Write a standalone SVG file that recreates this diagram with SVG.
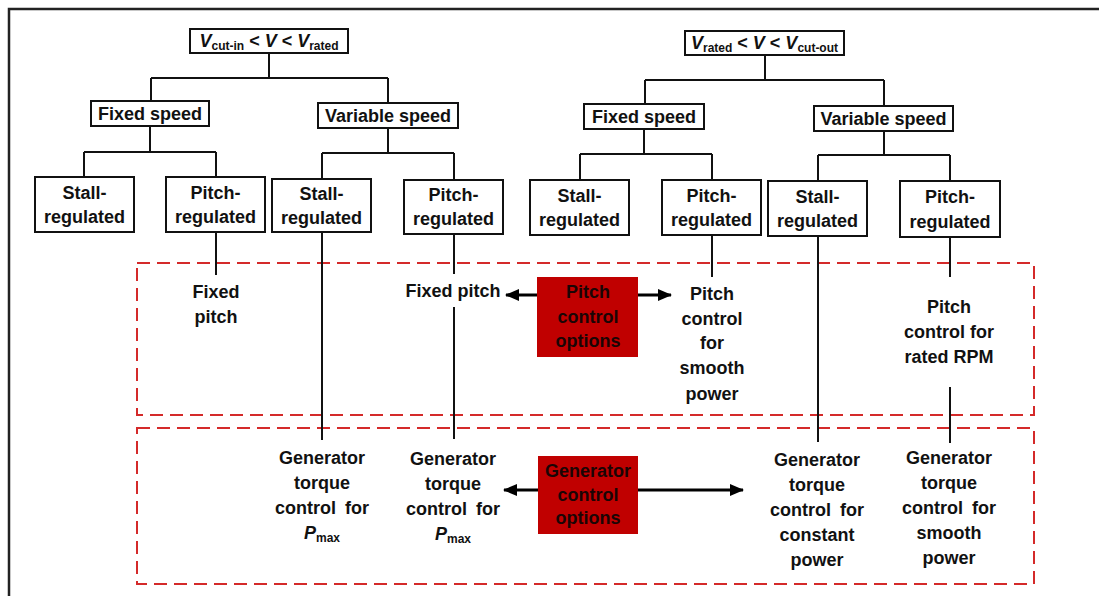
<svg xmlns="http://www.w3.org/2000/svg" width="1099" height="596" viewBox="0 0 1099 596">
  <style>
    .bg { fill: #ffffff; }
    .frame { fill: none; stroke: #222; stroke-width: 2.5; }
    .box { fill: #ffffff; stroke: #111; stroke-width: 2; }
    .opt { fill: #c00000; stroke: none; }
    .wire { fill: none; stroke: #111; stroke-width: 2; }
    .band { fill: none; stroke: #d42a2a; stroke-width: 2; stroke-dasharray: 13 7; }
    .arrow { fill: none; stroke: #000; stroke-width: 3; marker-end: url(#head); }
    .t { font-family: "Liberation Sans", Arial, sans-serif; font-weight: bold; font-size: 18px; fill: #111; text-anchor: middle; }
    .t2 { font-family: "Liberation Sans", Arial, sans-serif; font-weight: bold; font-size: 18px; fill: #1a0505; text-anchor: middle; }
    .it { font-style: italic; }
    .sub { font-size: 12px; font-style: normal; }
    .ws { word-spacing: 4px; }
  </style>
  <defs>
    <marker id="head" markerUnits="userSpaceOnUse" markerWidth="14" markerHeight="12" refX="13" refY="6" orient="auto">
      <path d="M0,0 L14,6 L0,12 z" fill="#000"/>
    </marker>
  </defs>

  <rect class="bg" x="0" y="0" width="1099" height="596"/>
  <path class="frame" d="M1099,9 H9 V596"/>

  <!-- dashed option bands -->
  <g id="bands">
    <rect class="band" x="137" y="263" width="897" height="152"/>
    <rect class="band" x="137" y="428" width="897" height="156"/>
  </g>

  <!-- tree connectors and drop lines -->
  <g id="connectors">
    <path class="wire" d="M269,53 V78 M151,78 H388 M151,78 V101 M388,78 V103"/>
    <path class="wire" d="M150,126 V152 M84,152 H216 M84,152 V177 M216,152 V177"/>
    <path class="wire" d="M388,128 V153 M322,153 H454 M322,153 V179 M454,153 V180"/>
    <path class="wire" d="M765,55 V80 M645,80 H884 M645,80 V104 M884,80 V106"/>
    <path class="wire" d="M644,129 V154 M580,154 H712 M580,154 V180 M712,154 V180"/>
    <path class="wire" d="M884,131 V155 M818,155 H950 M818,155 V181 M950,155 V181"/>
    <path class="wire" d="M216,232 V275"/>
    <path class="wire" d="M322,232 V440"/>
    <path class="wire" d="M454,234 V274 M454,307 V439"/>
    <path class="wire" d="M712,235 V277"/>
    <path class="wire" d="M818,236 V442"/>
    <path class="wire" d="M950,237 V277 M950,387 V443"/>
    <line class="arrow" x1="537" y1="295" x2="506" y2="295"/>
    <line class="arrow" x1="638" y1="295" x2="671" y2="295"/>
    <line class="arrow" x1="538" y1="490" x2="504" y2="490"/>
    <line class="arrow" x1="638" y1="490" x2="743" y2="490"/>
  </g>

  <!-- left tree: cut-in to rated -->
  <g id="root-low">
    <rect class="box" x="190" y="29" width="158" height="24"/>
    <text class="t" x="269" y="47"><tspan class="it">V</tspan><tspan class="sub" dy="3">cut-in</tspan><tspan dy="-3"> &lt; </tspan><tspan class="it">V</tspan><tspan> &lt; </tspan><tspan class="it">V</tspan><tspan class="sub" dy="3">rated</tspan></text>
  </g>
  <g id="fixed-low">
    <rect class="box" x="91" y="101" width="118" height="25"/>
    <text class="t" x="150" y="120">Fixed speed</text>
  </g>
  <g id="variable-low">
    <rect class="box" x="318" y="103" width="140" height="25"/>
    <text class="t" x="388" y="122">Variable speed</text>
  </g>
  <g id="stall-fixed-low">
    <rect class="box" x="35" y="177" width="99" height="55"/>
    <text class="t" x="84.5" y="199">Stall-</text>
    <text class="t" x="84.5" y="223">regulated</text>
  </g>
  <g id="pitch-fixed-low">
    <rect class="box" x="166" y="177" width="99" height="55"/>
    <text class="t" x="215.5" y="199">Pitch-</text>
    <text class="t" x="215.5" y="223">regulated</text>
  </g>
  <g id="stall-var-low">
    <rect class="box" x="272" y="179" width="99" height="53"/>
    <text class="t" x="321.5" y="200">Stall-</text>
    <text class="t" x="321.5" y="224">regulated</text>
  </g>
  <g id="pitch-var-low">
    <rect class="box" x="404" y="180" width="99" height="54"/>
    <text class="t" x="453.5" y="201">Pitch-</text>
    <text class="t" x="453.5" y="225">regulated</text>
  </g>

  <!-- right tree: rated to cut-out -->
  <g id="root-high">
    <rect class="box" x="685" y="31" width="159" height="24"/>
    <text class="t" x="764.5" y="49"><tspan class="it">V</tspan><tspan class="sub" dy="3">rated</tspan><tspan dy="-3"> &lt; </tspan><tspan class="it">V</tspan><tspan> &lt; </tspan><tspan class="it">V</tspan><tspan class="sub" dy="3">cut-out</tspan></text>
  </g>
  <g id="fixed-high">
    <rect class="box" x="584" y="104" width="120" height="25"/>
    <text class="t" x="644" y="123">Fixed speed</text>
  </g>
  <g id="variable-high">
    <rect class="box" x="814" y="106" width="139" height="25"/>
    <text class="t" x="883.5" y="125">Variable speed</text>
  </g>
  <g id="stall-fixed-high">
    <rect class="box" x="530" y="180" width="99" height="55"/>
    <text class="t" x="579.5" y="202">Stall-</text>
    <text class="t" x="579.5" y="226">regulated</text>
  </g>
  <g id="pitch-fixed-high">
    <rect class="box" x="662" y="180" width="99" height="55"/>
    <text class="t" x="711.5" y="202">Pitch-</text>
    <text class="t" x="711.5" y="226">regulated</text>
  </g>
  <g id="stall-var-high">
    <rect class="box" x="768" y="181" width="99" height="55"/>
    <text class="t" x="817.5" y="203">Stall-</text>
    <text class="t" x="817.5" y="227">regulated</text>
  </g>
  <g id="pitch-var-high">
    <rect class="box" x="900" y="181" width="100" height="56"/>
    <text class="t" x="950" y="203">Pitch-</text>
    <text class="t" x="950" y="228">regulated</text>
  </g>

  <!-- pitch control band -->
  <g id="fixed-pitch-a">
    <text class="t" x="216" y="298">Fixed</text>
    <text class="t" x="216" y="323">pitch</text>
  </g>
  <g id="fixed-pitch-b">
    <text class="t" x="453" y="297">Fixed pitch</text>
  </g>
  <g id="pitch-options">
    <rect class="opt" x="537" y="277" width="101" height="80"/>
    <text class="t2" x="588" y="298">Pitch</text>
    <text class="t2" x="588" y="323">control</text>
    <text class="t2" x="588" y="347">options</text>
  </g>
  <g id="pitch-smooth">
    <text class="t" x="712" y="300">Pitch</text>
    <text class="t" x="712" y="325">control</text>
    <text class="t" x="712" y="349">for</text>
    <text class="t" x="712" y="374">smooth</text>
    <text class="t" x="712" y="400">power</text>
  </g>
  <g id="pitch-rated">
    <text class="t" x="949" y="313">Pitch</text>
    <text class="t" x="949" y="338">control for</text>
    <text class="t" x="949" y="363">rated RPM</text>
  </g>

  <!-- generator control band -->
  <g id="gen-pmax-a">
    <text class="t" x="322" y="464">Generator</text>
    <text class="t" x="322" y="489">torque</text>
    <text class="t ws" x="322" y="514">control for</text>
    <text class="t" x="322" y="539"><tspan class="it">P</tspan><tspan class="sub" dy="3">max</tspan></text>
  </g>
  <g id="gen-pmax-b">
    <text class="t" x="453" y="465">Generator</text>
    <text class="t" x="453" y="490">torque</text>
    <text class="t ws" x="453" y="515">control for</text>
    <text class="t" x="453" y="540"><tspan class="it">P</tspan><tspan class="sub" dy="3">max</tspan></text>
  </g>
  <g id="gen-options">
    <rect class="opt" x="538" y="456" width="100" height="78"/>
    <text class="t2" x="588" y="477">Generator</text>
    <text class="t2" x="588" y="501">control</text>
    <text class="t2" x="588" y="524">options</text>
  </g>
  <g id="gen-constant">
    <text class="t" x="817" y="466">Generator</text>
    <text class="t" x="817" y="491">torque</text>
    <text class="t ws" x="817" y="516">control for</text>
    <text class="t" x="817" y="541">constant</text>
    <text class="t" x="817" y="566">power</text>
  </g>
  <g id="gen-smooth">
    <text class="t" x="949" y="464">Generator</text>
    <text class="t" x="949" y="489">torque</text>
    <text class="t ws" x="949" y="514">control for</text>
    <text class="t" x="949" y="539">smooth</text>
    <text class="t" x="949" y="564">power</text>
  </g>
</svg>
